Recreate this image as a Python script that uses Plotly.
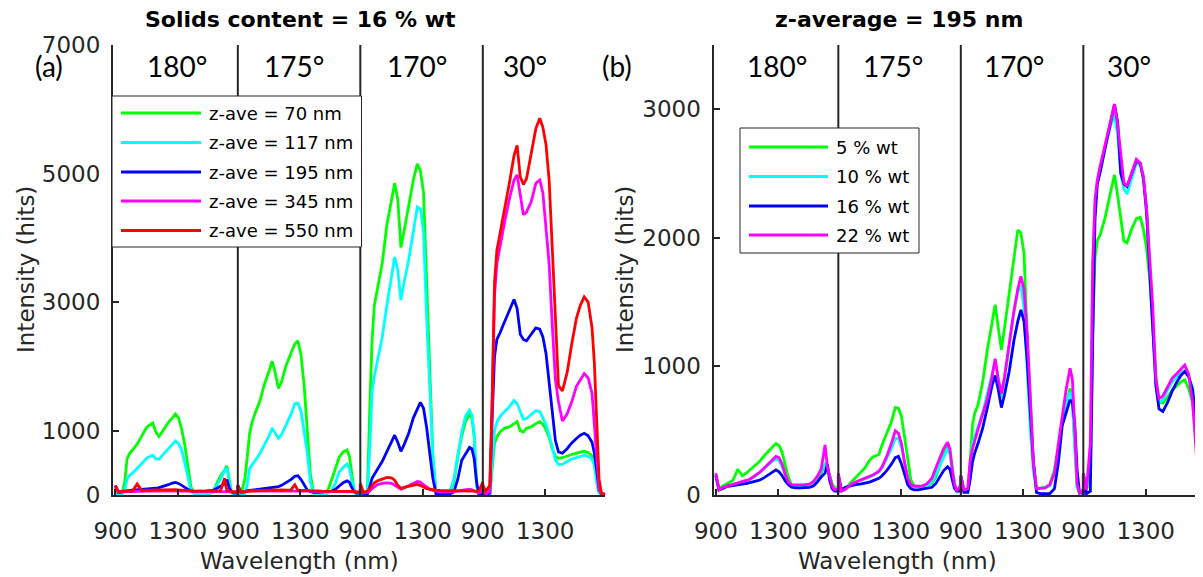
import plotly.graph_objects as go

# ---------------- data ----------------
WAVELENGTH_NM = [900, 920, 945, 960, 975, 990, 1010, 1040, 1070,
                 1100, 1120, 1140, 1160, 1180, 1210, 1240, 1265, 1285,
                 1305, 1325, 1345, 1365, 1385, 1410, 1440, 1470, 1500,
                 1525, 1550, 1575, 1600, 1615, 1630, 1645, 1660, 1685]
DETECTOR_ANGLES = ["180°", "175°", "170°", "30°"]
XTICK_WL = [900, 1300]
A_YTICKS = [0, 1000, 3000, 5000, 7000]
B_YTICKS = [0, 1000, 2000, 3000]

A_SERIES_NAMES = ["z-ave = 70 nm", "z-ave = 117 nm", "z-ave = 195 nm",
                  "z-ave = 345 nm", "z-ave = 550 nm"]
B_SERIES_NAMES = ["5 % wt", "10 % wt", "16 % wt", "22 % wt"]

# panel (a): one list per detector angle (180, 175, 170, 30 deg)
a_z070 = [
    [30, 20, 30, 200, 560, 640, 700, 790, 920,
     1050, 1090, 1120, 980, 910, 1020, 1130, 1200, 1260,
     1200, 1020, 780, 470, 120, 20, 10, 10, 20,
     40, 180, 300, 390, 450, 250, 40, 10, 20],
    [20, 10, 250, 580, 950, 1120, 1270, 1450, 1720,
     1930, 2080, 1900, 1660, 1760, 2020, 2200, 2350, 2400,
     2180, 1700, 1080, 320, 40, 10, 10, 30, 230,
     420, 590, 670, 700, 600, 340, 80, 10, 10],
    [20, 10, 20, 1300, 2400, 2950, 3200, 3600, 4200,
     4600, 4850, 4600, 3850, 4100, 4500, 4900, 5150, 5050,
     4700, 3400, 1900, 600, 40, 10, 10, 20, 200,
     600, 920, 1150, 1250, 1200, 900, 150, 10, 10],
    [30, 10, 20, 400, 800, 900, 980, 1040, 1060,
     1110, 1140, 1000, 980, 1040, 1060, 1110, 1140, 1100,
     1020, 900, 720, 600, 570, 580, 610, 630, 650,
     670, 680, 660, 610, 500, 230, 40, 10, 10],
]
a_z117 = [
    [20, 10, 20, 60, 250, 300, 340, 420, 500,
     570, 600, 620, 560, 555, 640, 720, 790, 840,
     800, 700, 500, 250, 60, 10, 10, 10, 20,
     50, 150, 250, 380, 420, 200, 40, 10, 20],
    [20, 10, 20, 150, 400, 470, 530, 640, 780,
     920, 1040, 960, 880, 940, 1100, 1250, 1420, 1430,
     1300, 1000, 660, 200, 30, 10, 10, 20, 60,
     180, 360, 430, 480, 420, 230, 60, 10, 10],
    [20, 10, 10, 700, 1600, 1850, 2100, 2450, 2950,
     3400, 3700, 3500, 3030, 3300, 3660, 4100, 4480, 4450,
     4100, 2750, 1600, 600, 30, 10, 10, 20, 250,
     650, 980, 1230, 1320, 1250, 950, 150, 10, 10],
    [30, 10, 20, 500, 1000, 1130, 1220, 1300, 1370,
     1470, 1420, 1300, 1180, 1190, 1250, 1310, 1300, 1200,
     1100, 930, 750, 550, 470, 480, 520, 560, 580,
     600, 620, 600, 560, 460, 180, 30, 10, 10],
]
a_z195 = [
    [150, 40, 50, 60, 70, 70, 75, 80, 85,
     90, 95, 100, 105, 115, 135, 160, 185, 195,
     180, 150, 110, 80, 60, 55, 55, 55, 60,
     70, 100, 140, 170, 240, 110, 50, 30, 30],
    [150, 40, 60, 65, 70, 75, 80, 85, 90,
     100, 110, 120, 130, 150, 190, 240, 290, 300,
     240, 160, 80, 50, 40, 40, 45, 50, 60,
     90, 140, 190, 220, 200, 120, 50, 30, 30],
    [150, 20, 20, 120, 260, 330, 400, 520, 680,
     850, 930, 820, 680, 780, 960, 1200, 1350, 1440,
     1350, 1050, 650, 260, 20, 10, 10, 10, 50,
     250, 540, 650, 740, 720, 560, 200, 20, 10],
    [150, 10, 30, 1200, 2150, 2420, 2520, 2700, 2870,
     3040, 2900, 2500, 2420, 2400, 2500, 2600, 2580, 2460,
     2200, 1750, 1300, 850, 670, 650, 720, 810, 880,
     930, 960, 920, 820, 650, 380, 80, 20, 10],
]
a_z345 = [
    [120, 40, 50, 50, 55, 55, 60, 60, 60,
     60, 60, 65, 65, 65, 70, 70, 70, 70,
     65, 65, 60, 60, 55, 55, 55, 55, 55,
     55, 55, 55, 60, 60, 55, 50, 45, 40],
    [120, 40, 50, 55, 55, 60, 60, 60, 60,
     65, 65, 65, 65, 70, 70, 70, 70, 70,
     65, 65, 60, 60, 55, 55, 55, 55, 55,
     55, 55, 60, 60, 60, 55, 50, 45, 40],
    [100, 30, 40, 60, 100, 130, 160, 180, 190,
     180, 150, 110, 90, 110, 140, 180, 210, 200,
     160, 120, 90, 70, 60, 50, 50, 50, 50,
     60, 70, 80, 90, 80, 60, 40, 30, 60],
    [100, 20, 50, 1400, 3100, 3600, 3880, 4250, 4600,
     4900, 4980, 4650, 4360, 4400, 4560, 4850, 4900, 4700,
     4200, 3600, 2650, 1800, 1450, 1150, 1260, 1450, 1690,
     1800, 1890, 1820, 1580, 1100, 600, 100, 20, 10],
]
a_z550 = [
    [140, 50, 60, 55, 60, 65, 60, 170, 70,
     75, 70, 80, 75, 80, 80, 85, 80, 85,
     80, 75, 70, 65, 60, 60, 65, 60, 70,
     65, 60, 70, 260, 65, 60, 55, 50, 60],
    [150, 40, 50, 60, 65, 70, 65, 70, 75,
     70, 75, 80, 75, 80, 75, 80, 160, 75,
     70, 75, 70, 65, 60, 65, 60, 60, 65,
     60, 65, 60, 60, 55, 60, 55, 50, 50],
    [180, 40, 60, 100, 150, 190, 220, 250, 275,
     265, 230, 150, 105, 120, 140, 155, 165, 150,
     120, 100, 90, 80, 75, 70, 70, 65, 60,
     60, 65, 60, 65, 60, 60, 55, 60, 200],
    [150, 60, 150, 1500, 3300, 3800, 4050, 4450, 4850,
     5280, 5440, 4950, 4830, 4920, 5300, 5700, 5860, 5720,
     5450, 4900, 3850, 2750, 1700, 1620, 1900, 2350, 2750,
     2950, 3080, 3000, 2600, 2050, 1250, 250, 30, 10],
]

# panel (b): z-average 195 nm at four solids contents
b_wt05 = [
    [160, 50, 70, 80, 90, 104, 115, 200, 150,
     175, 195, 215, 234, 260, 305, 345, 375, 400,
     385, 330, 230, 135, 78, 70, 70, 72, 78,
     95, 125, 170, 235, 210, 143, 90, 55, 60],
    [150, 30, 60, 65, 90, 110, 135, 170, 210,
     270, 295, 305, 315, 390, 477, 570, 680, 675,
     610, 440, 280, 117, 70, 65, 70, 75, 90,
     140, 230, 320, 400, 340, 200, 90, 30, 60],
    [150, 40, 50, 250, 550, 640, 700, 880, 1130,
     1350, 1480, 1300, 1130, 1300, 1580, 1860, 2060, 2040,
     1880, 1240, 680, 250, 50, 55, 60, 80, 200,
     360, 570, 700, 830, 720, 400, 60, 15, 40],
    [170, 40, 150, 1250, 1850, 1980, 2030, 2160, 2330,
     2490, 2330, 2150, 1975, 1960, 2070, 2150, 2160, 2070,
     1920, 1690, 1320, 930, 720, 715, 760, 815, 850,
     880, 895, 830, 720, 550, 260, 60, 20, 20],
]
b_wt10 = [
    [160, 40, 55, 60, 65, 75, 80, 90, 100,
     110, 120, 135, 150, 170, 205, 240, 265, 280,
     270, 220, 150, 95, 75, 72, 72, 75, 80,
     100, 140, 190, 240, 210, 130, 60, 40, 60],
    [160, 30, 45, 55, 70, 85, 95, 110, 120,
     135, 150, 165, 180, 210, 280, 360, 440, 440,
     370, 250, 130, 80, 65, 62, 62, 70, 100,
     160, 230, 300, 360, 320, 190, 80, 30, 60],
    [150, 40, 40, 230, 400, 460, 540, 640, 790,
     950, 1040, 900, 760, 900, 1150, 1420, 1580, 1630,
     1450, 1000, 520, 180, 50, 50, 55, 70, 170,
     350, 560, 710, 800, 720, 330, 60, 15, 40],
    [170, 40, 150, 1700, 2250, 2450, 2560, 2700, 2850,
     2960, 2800, 2500, 2380, 2340, 2460, 2580, 2570, 2460,
     2250, 1800, 1350, 850, 720, 740, 820, 880, 920,
     950, 970, 930, 830, 650, 300, 60, 20, 20],
]
b_wt16 = a_z195  # same sample: z-average 195 nm, 16 % wt
b_wt22 = [
    [170, 40, 60, 65, 70, 80, 85, 95, 105,
     115, 125, 140, 155, 175, 210, 245, 280, 300,
     290, 240, 160, 100, 80, 78, 78, 80, 85,
     105, 145, 200, 390, 220, 140, 70, 40, 50],
    [170, 30, 45, 60, 75, 90, 100, 115, 125,
     140, 155, 170, 185, 220, 300, 400, 500, 480,
     400, 250, 130, 80, 70, 68, 70, 90, 130,
     210, 290, 360, 410, 360, 200, 80, 30, 80],
    [150, 40, 50, 270, 360, 430, 510, 630, 750,
     920, 1060, 900, 790, 920, 1180, 1430, 1600, 1700,
     1600, 1260, 780, 250, 50, 50, 55, 80, 170,
     400, 620, 820, 985, 900, 520, 90, 15, 40],
    [170, 40, 400, 1800, 2300, 2450, 2570, 2730, 2880,
     3040, 2880, 2650, 2430, 2400, 2510, 2610, 2580, 2480,
     2230, 1850, 1470, 900, 750, 770, 840, 910, 945,
     980, 1010, 940, 720, 480, 200, 60, 20, 20],
]

A_DATA = [a_z070, a_z117, a_z195, a_z345, a_z550]
B_DATA = [b_wt05, b_wt10, b_wt16, b_wt22]

# ---------------- styling / layout constants ----------------
PAGE_W, PAGE_H = 1203, 577
BODY_MARGIN = 8                       # default page margin around the plot div
W, H = PAGE_W - BODY_MARGIN, PAGE_H - BODY_MARGIN
SEG = 785                             # axis units given to each detector angle
AX = "#262626"
LINE_W = 2.8
A_COLORS = ["#00ff00", "#00ffff", "#0000ff", "#ff00ff", "#ff0000"]
B_COLORS = ["#00ff00", "#00ffff", "#0000ff", "#ff00ff"]
TICKFONT = dict(family="DejaVu Sans", size=23, color=AX)


def fx(p):
    """screen pixel x -> paper fraction"""
    return (p - BODY_MARGIN) / W


def fy(p):
    """screen pixel y (from top) -> paper fraction"""
    return (H - (p - BODY_MARGIN)) / H


def concat(segments):
    xs, ys = [], []
    for k, seg in enumerate(segments):
        assert len(seg) == len(WAVELENGTH_NM)
        xs += [w + k * SEG for w in WAVELENGTH_NM]
        ys += seg
    return xs, ys


fig = go.Figure()
for name, segs, col in zip(A_SERIES_NAMES, A_DATA, A_COLORS):
    x, y = concat(segs)
    fig.add_trace(go.Scatter(x=x, y=y, mode="lines", name=name,
                             line=dict(color=col, width=LINE_W),
                             xaxis="x", yaxis="y", showlegend=False))
for name, segs, col in zip(B_SERIES_NAMES, B_DATA, B_COLORS):
    x, y = concat(segs)
    fig.add_trace(go.Scatter(x=x, y=y, mode="lines", name=name,
                             line=dict(color=col, width=LINE_W),
                             xaxis="x2", yaxis="y2", showlegend=False))

tickvals = [t + k * SEG for k in range(4) for t in XTICK_WL]
ticktext = [str(t) for k in range(4) for t in XTICK_WL]

xcommon = dict(tickvals=tickvals, ticktext=ticktext, ticks="inside", ticklen=6,
               tickwidth=1.5, tickcolor=AX, showline=True, linecolor=AX,
               linewidth=2, showgrid=False, zeroline=False, tickfont=TICKFONT,
               ticklabelstandoff=14, automargin=False)
ycommon = dict(ticks="inside", ticklen=6, tickwidth=1.5, tickcolor=AX,
               showline=True, linecolor=AX, linewidth=2, showgrid=False,
               zeroline=False, tickfont=TICKFONT, ticklabelstandoff=6,
               domain=[fy(495), fy(45)], automargin=False)

fig.update_layout(
    width=W, height=H, margin=dict(l=0, r=0, t=0, b=0, autoexpand=False),
    paper_bgcolor="white", plot_bgcolor="white", showlegend=False,
    xaxis=dict(domain=[fx(113), fx(605.3)], range=[885, 900 + 4 * SEG],
               anchor="y", **xcommon),
    xaxis2=dict(domain=[fx(713.5), 1.0], range=[885, 4022], anchor="y2", **xcommon),
    yaxis=dict(range=[0, 7000], tickvals=A_YTICKS, anchor="x", **ycommon),
    yaxis2=dict(range=[0, 3500], tickvals=B_YTICKS, anchor="x2", **ycommon),
)

shapes = []
annotations = []

# segment dividers
for xa, ya in (("x", "y domain"), ("x2", "y2 domain")):
    for k in range(1, 4):
        shapes.append(dict(type="line", xref=xa, yref=ya, x0=900 + k * SEG,
                           x1=900 + k * SEG, y0=0, y1=1,
                           line=dict(color=AX, width=2), layer="above"))

# detector-angle labels
ANGLE_OFFSETS_A = [397, 363, 364, 269]
ANGLE_OFFSETS_B = [391, 353, 340, 291]
for xa, offs in (("x", ANGLE_OFFSETS_A), ("x2", ANGLE_OFFSETS_B)):
    for k, (lab, off) in enumerate(zip(DETECTOR_ANGLES, offs)):
        annotations.append(dict(text=lab, xref=xa, yref="paper",
                                x=900 + k * SEG + off, y=fy(66),
                                showarrow=False, xanchor="center", yanchor="middle",
                                font=dict(family="Lato", size=28, color="black")))

# panel letters
for txt, px in (("(a)", 49), ("(b)", 617)):
    annotations.append(dict(text=txt, xref="paper", yref="paper", x=fx(px), y=fy(66),
                            showarrow=False, xanchor="center", yanchor="middle",
                            font=dict(family="Lato", size=28, color="black")))

# titles
for txt, px in (("Solids content = 16 % wt", 300), ("z-average = 195 nm", 899)):
    annotations.append(dict(text=txt, xref="paper", yref="paper", x=fx(px), y=fy(20),
                            showarrow=False, xanchor="center", yanchor="middle",
                            font=dict(family="DejaVu Sans", size=22, color="black",
                                      weight="bold")))

# axis titles
for px in (299, 898):
    annotations.append(dict(text="Wavelength (nm)", xref="paper", yref="paper",
                            x=fx(px), y=fy(561), showarrow=False,
                            xanchor="center", yanchor="middle",
                            font=dict(family="DejaVu Sans", size=23, color=AX)))
for px in (26, 625):
    annotations.append(dict(text="Intensity (hits)", xref="paper", yref="paper",
                            x=fx(px), y=fy(270), showarrow=False, textangle=-90,
                            xanchor="center", yanchor="middle",
                            font=dict(family="DejaVu Sans", size=23, color=AX)))


# hand-drawn legends (long line samples as in the reference)
def legend(box, line_x, text_x, rows_y, names, colors):
    x0, y0, x1, y1 = box
    shapes.append(dict(type="rect", xref="paper", yref="paper",
                       x0=fx(x0), x1=fx(x1), y0=fy(y1), y1=fy(y0),
                       line=dict(color=AX, width=1), fillcolor="white", layer="above"))
    for name, col, ry in zip(names, colors, rows_y):
        shapes.append(dict(type="line", xref="paper", yref="paper",
                           x0=fx(line_x[0]), x1=fx(line_x[1]), y0=fy(ry), y1=fy(ry),
                           line=dict(color=col, width=LINE_W), layer="above"))
        annotations.append(dict(text=name, xref="paper", yref="paper",
                                x=fx(text_x), y=fy(ry), showarrow=False,
                                xanchor="left", yanchor="middle",
                                font=dict(family="DejaVu Sans", size=18, color="black")))


legend((112, 96, 361.5, 247), (121, 201), 207, [113, 142.5, 172, 201, 230.5],
       A_SERIES_NAMES, A_COLORS)
legend((740, 128, 919, 253), (749, 828), 834, [147, 176.5, 206, 235],
       B_SERIES_NAMES, B_COLORS)

fig.update_layout(shapes=shapes, annotations=annotations)
fig.write_html("out.html")
